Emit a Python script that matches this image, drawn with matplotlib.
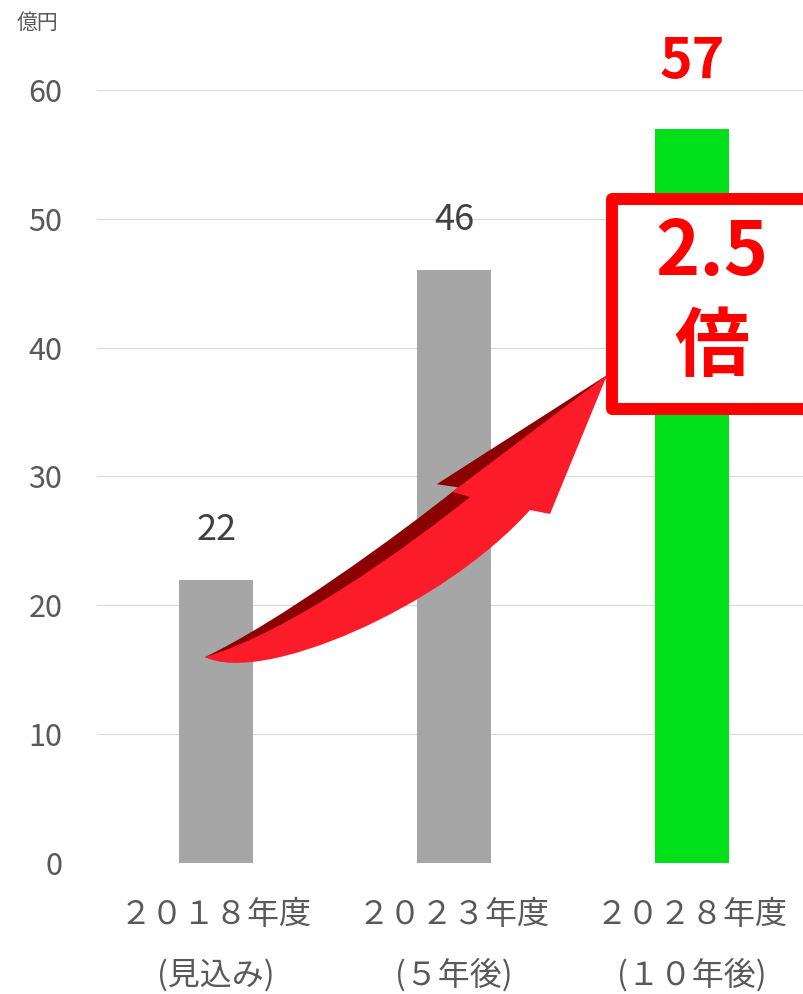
import numpy as np
import matplotlib
matplotlib.use('Agg')
import matplotlib.pyplot as plt
from matplotlib.path import Path
from matplotlib.patches import PathPatch, Rectangle

plt.rcParams['font.family'] = ['Noto Sans CJK JP', 'DejaVu Sans']

# market size (100 million yen)
categories = ['２０１８年度', '２０２３年度', '２０２８年度']
sublabels = ['(見込み)', '(５年後)', '(１０年後)']
values = [22, 46, 57]
bar_colors = ['#a6a6a6', '#a6a6a6', '#00e01b']
yticks = [0, 10, 20, 30, 40, 50, 60]
unit_label = '億円'
growth_text = '2.5'
growth_unit = '倍'

GRAY_TEXT = '#595959'
RED = '#ff0000'

fig = plt.figure(figsize=(8.04, 9.94), dpi=100)
ax = fig.add_axes([97/804, 131/994, 707/804, 773/994])

x = np.arange(len(values))
ax.bar(x, values, width=0.31, color=bar_colors, zorder=2)
ax.set_xlim(-0.5, 2.47)
ax.set_ylim(0, 60)
ax.set_yticks(yticks)
ax.set_xticks([])
ax.yaxis.grid(True, color='#d9d9d9', lw=0.8)
ax.set_axisbelow(True)
for s in ax.spines.values():
    s.set_visible(False)
ax.tick_params(axis='y', length=0, pad=25, labelsize=22, labelcolor=GRAY_TEXT)

fig.text(38/804, 1 - 23/994, unit_label, ha='center', va='center',
         fontsize=15, color=GRAY_TEXT)

# two-line category labels under the bars
trans = ax.get_xaxis_transform()
for i, (c, s) in enumerate(zip(categories, sublabels)):
    ax.text(i, -0.067, c, transform=trans, ha='center', va='center',
            fontsize=23, color=GRAY_TEXT)
    ax.text(i, -0.145, s, transform=trans, ha='center', va='center',
            fontsize=23, color=GRAY_TEXT)

# value labels
for i, v in enumerate(values[:-1]):
    ax.annotate(str(v), (i, v), xytext=(0, 36), textcoords='offset points',
                ha='center', va='center', fontsize=26, color='#404040')
ax.annotate(str(values[-1]), (x[-1], values[-1]), xytext=(0, 48),
            textcoords='offset points', ha='center', va='center',
            fontsize=40, fontweight='bold', color=RED, annotation_clip=False)

# curved growth arrow, drawn in data space
verts = [(-0.046, 15.99),
         (0.185, 13.82), (0.941, 19.64), (1.319, 27.40),
         (1.403, 27.09), (1.643, 37.88), (0.992, 28.80), (1.067, 28.41),
         (0.815, 24.68), (0.311, 17.93), (-0.046, 15.99),
         (0, 0)]
codes = [Path.MOVETO,
         Path.CURVE4, Path.CURVE4, Path.CURVE4,
         Path.LINETO, Path.LINETO, Path.LINETO, Path.LINETO,
         Path.CURVE4, Path.CURVE4, Path.CURVE4,
         Path.CLOSEPOLY]
verts = np.array(verts, dtype=float)

# dark upper face: same outline pushed up-left, sharing tail and tip
shadow = verts.copy()
shadow[1:5] += [-0.05, 0.75]
shadow[6] += [-0.065, 0.6]
shadow[7:10] += [-0.05, 0.75]
ax.add_patch(PathPatch(Path(shadow, codes), facecolor='#8b0000',
                       edgecolor='none', zorder=3))
ax.add_patch(PathPatch(Path(verts, codes), facecolor='#fc1b29',
                       edgecolor='none', zorder=3))

# "2.5倍" callout box
box = Rectangle((1.664, 35.24), 0.832, 16.30, facecolor='white',
                edgecolor=RED, lw=8.6, joinstyle='round', clip_on=False,
                zorder=4)
ax.add_patch(box)
ax.text(2.084, 47.35, growth_text, ha='center', va='center', fontsize=54,
        fontweight='bold', color=RED, zorder=5, clip_on=False)
ax.text(2.084, 39.98, growth_unit, ha='center', va='center', fontsize=54,
        fontweight='bold', color=RED, zorder=5, clip_on=False)

fig.savefig('out.png', dpi=100)
